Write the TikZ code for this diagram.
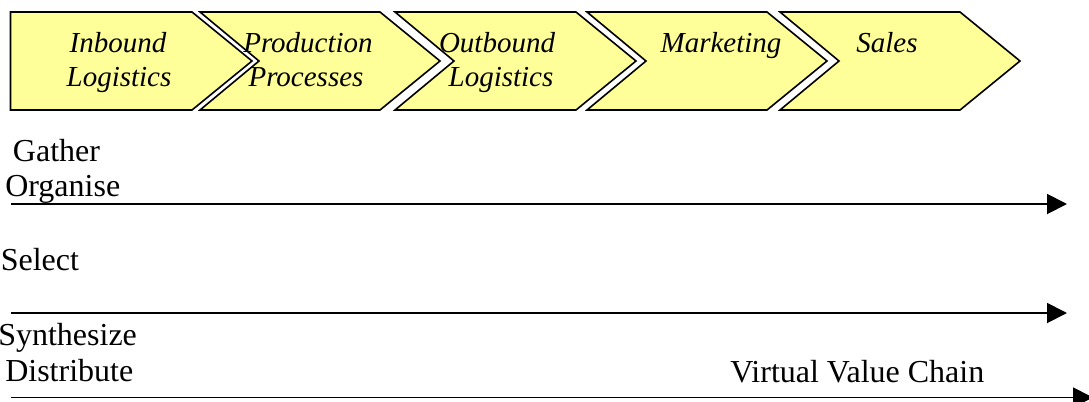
\documentclass[tikz,border=0pt]{standalone}
\usepackage{fontspec}
\setmainfont{Liberation Serif}
\usetikzlibrary{arrows.meta}
\definecolor{stagefill}{HTML}{FFFF99}

\tikzset{
    stage/.style={draw=black, line width=1.2pt, fill=stagefill, line join=miter},
    flow/.style={draw=black, line width=1.4pt, -{Triangle[length=15pt, width=15pt]}},
}

\begin{document}
\begin{tikzpicture}[x=0.75pt, y=-0.75pt]
    \useasboundingbox (0, 0) rectangle (1089, 401);

    % value chain stages, the first one has a flat back
    \path[stage] (10.5, 12) -- (192, 12) -- (252, 61) -- (192, 110) -- (10.5, 110) -- cycle;
    \foreach \l/\r in {200/380, 395/576, 587/767, 780/960} {
        \path[stage] (\l, 12) -- (\r, 12) -- (\r+60, 61) -- (\r, 110) -- (\l, 110) -- (\l+59, 61) -- cycle;
    }

    \begin{scope}[every node/.style={font=\fontsize{21.75}{24.75}\selectfont\itshape, inner sep=0pt, anchor=base}]
        \node (S_1a) at (118, 52.6) {Inbound};
        \node (S_1b) at (119, 86) {Logistics};

        \node (S_2a) at (308, 52.6) {Production};
        \node (S_2b) at (306, 86) {Processes};

        \node (S_3a) at (497, 52.6) {Outbound};
        \node (S_3b) at (501, 86) {Logistics};

        \node (S_4) at (721, 52.6) {Marketing};

        \node (S_5) at (887, 52.6) {Sales};
    \end{scope}

    \begin{scope}[every node/.style={font=\fontsize{24}{26.4}\selectfont, inner sep=0pt, anchor=base west}]
        \node (T_gather) at (12.7, 161) {Gather};
        \node (T_organise) at (5, 196) {Organise};

        \node (T_select) at (0.5, 270) {Select};

        \node (T_synth) at (-2, 345) {Synthesize};
        \node (T_distr) at (5, 381.5) {Distribute};

        \node (T_virtual) at (730, 382) {Virtual Value Chain};
    \end{scope}

    \coordinate (L_1a) at (11, 204);
    \coordinate (L_1b) at (1067, 204);
    \coordinate (L_2a) at (11, 313);
    \coordinate (L_2b) at (1067, 313);
    \coordinate (L_3a) at (11, 397.5);
    \coordinate (L_3b) at (1093, 397.5);

    \draw[flow] (L_1a) -- (L_1b);
    \draw[flow] (L_2a) -- (L_2b);
    \draw[flow] (L_3a) -- (L_3b);
\end{tikzpicture}
\end{document}
